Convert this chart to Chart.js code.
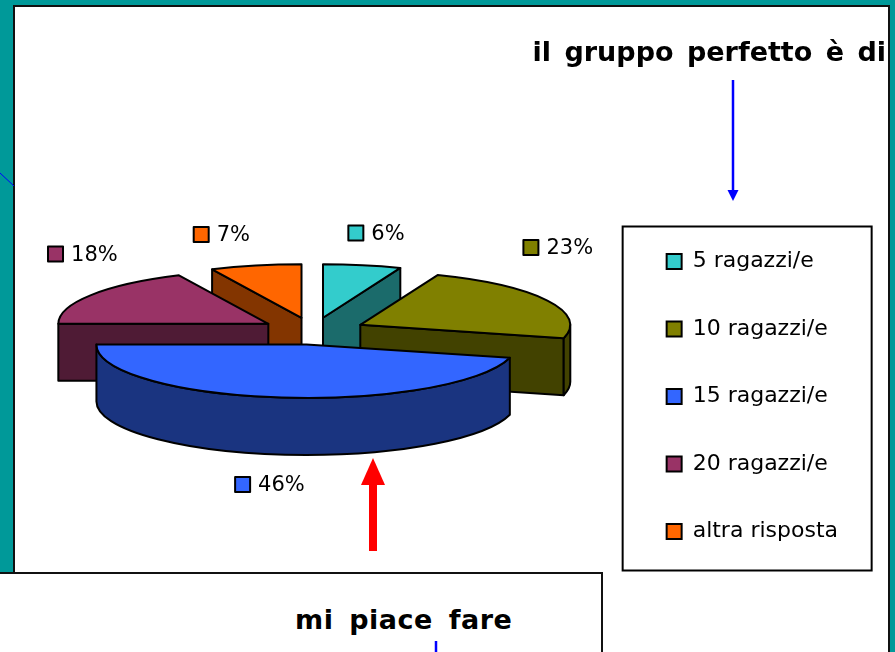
<!DOCTYPE html>
<html lang="it">
<head>
<meta charset="utf-8">
<script src="https://cdn.jsdelivr.net/npm/chart.js@4"></script>
<style>
html,body{margin:0;padding:0;width:895px;height:652px;overflow:hidden;background:#009999;}
#panel{position:absolute;left:13px;top:5px;width:873px;height:700px;background:#fff;border:2px solid #111;}
#chart{position:absolute;left:1px;top:0;z-index:2;}
#under{position:absolute;left:-4px;top:572px;width:603px;height:100px;background:#fff;border:2px solid #111;z-index:3;}
.h{position:absolute;font:bold 27px "DejaVu Sans",sans-serif;color:#000;white-space:nowrap;z-index:4;line-height:1;}
#t1{right:9px;top:38px;word-spacing:4px;}
#t2{left:295px;top:606px;word-spacing:6px;letter-spacing:.5px;}
svg{position:absolute;left:0;top:0;z-index:5;}
</style>
</head>
<body>
<div id="panel"></div>
<canvas id="chart" width="895" height="652"></canvas>
<div id="under"></div>
<div class="h" id="t1">il gruppo perfetto è di</div>
<div class="h" id="t2">mi piace fare</div>
<svg width="895" height="652">
  <line x1="0" y1="173" x2="14" y2="186" stroke="#0000ff" stroke-width="1"/>
  <line x1="733" y1="80" x2="733" y2="192" stroke="#0000ff" stroke-width="2.5"/>
  <polygon points="727.5,190 738.5,190 733,201" fill="#0000ff"/>
  <line x1="373" y1="551" x2="373" y2="484" stroke="#ff0000" stroke-width="8"/>
  <polygon points="361,485 385,485 373,458" fill="#ff0000"/>
  <line x1="436" y1="641" x2="436" y2="652" stroke="#0000ff" stroke-width="2.5"/>
</svg>
<script>
const categories = ["5 ragazzi/e", "10 ragazzi/e", "15 ragazzi/e", "20 ragazzi/e", "altra risposta"];
const percentages = [6, 23, 46, 18, 7];
const faceColours = ["#33CCCC", "#808000", "#3366FF", "#993366", "#FF6600"];
const wallColours = ["#1B6B6B", "#424200", "#1A3480", "#4F1B35", "#833500"];
const paintOrder = [4, 0, 3, 1, 2];
const labelNudges = [[-14, -32], [-24, -53], [-45, 87], [-43, -41], [-62, -31]];

const FONT = '"DejaVu Sans", sans-serif';
const TILT = 0.255, DEPTH = 57, SCREEN_CY = 331, EXPLODE = 53, FRAME_WIDTH = 249;

const pie3d = {
  id: 'pie3d',
  beforeDatasetDraw(chart) {
    const ctx = chart.ctx;
    const arcs = chart.getDatasetMeta(0).data;
    const geom = arc => {
      const p = arc.getProps(['x', 'startAngle', 'endAngle', 'outerRadius']);
      const mid = (p.startAngle + p.endAngle) / 2;
      const dx = Math.cos(mid) * EXPLODE, dy = Math.sin(mid) * EXPLODE * TILT;
      return {dx, dy, cx: p.x + dx, cy: SCREEN_CY + dy, r: p.outerRadius, ry: p.outerRadius * TILT,
              a0: p.startAngle, a1: p.endAngle, mid};
    };
    ctx.save();
    ctx.lineJoin = 'round';
    ctx.lineWidth = 2;
    ctx.strokeStyle = '#000';
    for (const i of paintOrder) {
      const arc = arcs[i], g = geom(arc);
      const pt = a => [g.cx + g.r * Math.cos(a), g.cy + g.ry * Math.sin(a)];
      ctx.fillStyle = wallColours[i];
      const radial = a => {
        const [x, y] = pt(a);
        ctx.beginPath();
        ctx.moveTo(g.cx, g.cy); ctx.lineTo(x, y);
        ctx.lineTo(x, y + DEPTH); ctx.lineTo(g.cx, g.cy + DEPTH);
        ctx.closePath(); ctx.fill(); ctx.stroke();
      };
      if (Math.cos(g.a0) < -1e-6) radial(g.a0);
      if (Math.cos(g.a1) > 1e-6) radial(g.a1);
      // outer rim, front half only
      const norm = a => { let v = a; while (v > Math.PI * 1.5) v -= 2 * Math.PI; return v; };
      const s = Math.max(norm(g.a0), 0), e = Math.min(norm(g.a1), Math.PI);
      if (e > s) {
        ctx.beginPath();
        ctx.ellipse(g.cx, g.cy, g.r, g.ry, 0, s, e);
        ctx.ellipse(g.cx, g.cy + DEPTH, g.r, g.ry, 0, e, s, true);
        ctx.closePath(); ctx.fill(); ctx.stroke();
      }
      // top face: the library's own arc, moved out and squashed
      ctx.save();
      ctx.translate(g.dx, g.cy);
      ctx.scale(1, TILT);
      ctx.translate(0, -arc.y);
      arc.draw(ctx, chart.chartArea);
      ctx.restore();
      ctx.beginPath();
      ctx.moveTo(g.cx, g.cy);
      ctx.ellipse(g.cx, g.cy, g.r, g.ry, 0, g.a0, g.a1);
      ctx.closePath(); ctx.stroke();
    }
    // percentage labels with colour keys
    ctx.font = '21px ' + FONT;
    ctx.textBaseline = 'middle';
    ctx.textAlign = 'left';
    arcs.forEach((arc, i) => {
      const g = geom(arc);
      const x = g.cx + g.r * Math.cos(g.mid) + labelNudges[i][0];
      const y = g.cy + g.ry * Math.sin(g.mid) + labelNudges[i][1];
      ctx.fillStyle = faceColours[i];
      ctx.fillRect(x, y - 7.5, 15, 15);
      ctx.strokeRect(x, y - 7.5, 15, 15);
      ctx.fillStyle = '#000';
      ctx.fillText(percentages[i] + '%', x + 23, y + 1);
    });
    ctx.restore();
    return false;
  },
  afterDraw(chart) {
    const boxes = chart.legend.legendHitBoxes, ctx = chart.ctx, l = chart.legend;
    const top = boxes[0].top - 24, bottom = boxes[boxes.length - 1].top + boxes[0].height + 28;
    ctx.save();
    ctx.strokeStyle = '#000';
    ctx.lineWidth = 2;
    ctx.strokeRect(l.left + 1.5, top, FRAME_WIDTH, bottom - top);
    ctx.restore();
  }
};

new Chart(document.getElementById('chart'), {
  type: 'pie',
  data: {
    labels: categories,
    datasets: [{
      data: percentages,
      backgroundColor: faceColours,
      borderWidth: 0,
      hoverOffset: 0,
      radius: 210
    }]
  },
  options: {
    responsive: false,
    animation: false,
    events: [],
    layout: {padding: {top: 141, right: 48, bottom: 0, left: 4}},
    plugins: {
      tooltip: {enabled: false},
      legend: {
        display: true,
        position: 'right',
        align: 'center',
        labels: {
          boxWidth: 15,
          boxHeight: 15,
          padding: 45.5,
          color: '#000',
          font: {family: FONT, size: 22},
          generateLabels(chart) {
            return categories.map((text, i) => ({
              text, fillStyle: faceColours[i], strokeStyle: '#000', lineWidth: 2, index: i, hidden: false
            }));
          }
        }
      }
    }
  },
  plugins: [pie3d]
});
</script>
</body>
</html>
